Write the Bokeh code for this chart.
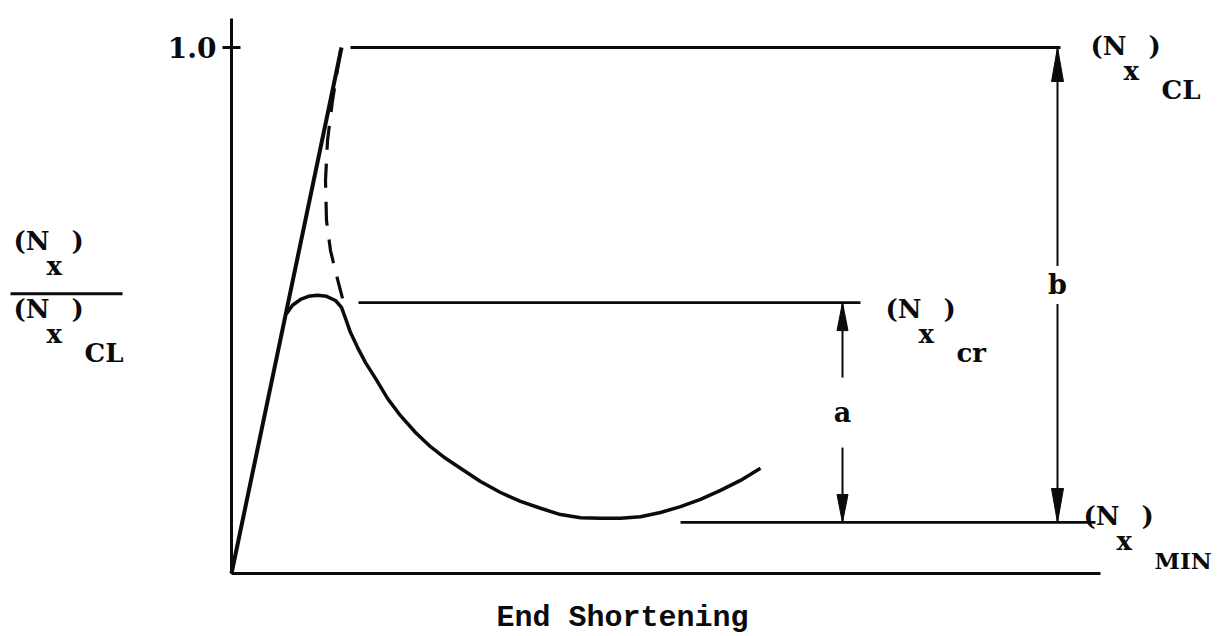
from bokeh.plotting import figure
from bokeh.models import Range1d, FixedTicker, PrintfTickFormatter
from bokeh.core.properties import value
from bokeh.embed import file_html
from bokeh.resources import INLINE

# Load levels, normalised by the classical buckling load (N_x)_CL
N_CL = 1.0
N_CR = 0.515
N_MIN = 0.097

y_ticks = [1.0]

# Elastic, pre-buckling branch
elastic_x = [0.0, 1.10]
elastic_y = [0.0, 1.0]

# Measured post-buckling path
post_x = [0.55, 0.61, 0.69, 0.77, 0.86, 0.95, 1.04, 1.10, 1.14, 1.19, 1.26,
          1.34, 1.44, 1.56, 1.69, 1.84, 1.99, 2.14, 2.29, 2.49, 2.69, 2.89,
          3.09, 3.29, 3.49, 3.69, 3.89, 4.09, 4.29, 4.49, 4.69, 4.89, 5.09, 5.29]
post_y = [0.494, 0.510, 0.521, 0.527, 0.529, 0.527, 0.519, 0.506, 0.485,
          0.458, 0.430, 0.401, 0.371, 0.333, 0.300, 0.268, 0.241, 0.219,
          0.200, 0.175, 0.154, 0.137, 0.124, 0.112, 0.106, 0.105, 0.105,
          0.108, 0.116, 0.127, 0.141, 0.158, 0.177, 0.200]

# Unstable theoretical path, dashed
theory_x = [1.09, 1.01, 0.96, 0.94, 0.95, 0.99, 1.05, 1.11]
theory_y = [0.994, 0.899, 0.823, 0.747, 0.671, 0.614, 0.567, 0.523]

# Extents of the reference lines and dimension arrows
axis_x_end = 8.69
axis_y_end = 1.055
cl_line_x = [1.19, 8.29]
cr_line_x = [1.27, 6.29]
min_line_x = [4.49, 8.64]
a_x = 6.11
b_x = 8.26

# Screen-to-data factors used for text placement and arrow heads
XPX = 0.01
YPX = 1.0 / 526.0

INK = "#0b0b0b"
SERIF = value("DejaVu Serif")

p = figure(width=1219, height=636,
           x_range=Range1d(-2.31, 9.88), y_range=Range1d(-0.1198, 1.0894),
           output_backend="svg", toolbar_location=None, min_border=0)
p.outline_line_color = None
p.grid.visible = False
p.background_fill_color = "white"

# Axes drawn through the origin
p.xaxis.fixed_location = 0
p.yaxis.fixed_location = 0
p.xaxis.bounds = (0, axis_x_end)
p.yaxis.bounds = (0, axis_y_end)
for ax in (p.xaxis, p.yaxis):
    ax.axis_line_color = INK
    ax.axis_line_width = 3
    ax.minor_tick_line_color = None
p.xaxis.ticker = FixedTicker(ticks=[])
p.xaxis.major_tick_line_color = None
p.xaxis.major_label_text_font_size = "0px"
p.yaxis.ticker = FixedTicker(ticks=y_ticks)
p.yaxis.formatter = PrintfTickFormatter(format="%.1f")
p.yaxis.major_tick_in = 9
p.yaxis.major_tick_out = 9
p.yaxis.major_tick_line_width = 3
p.yaxis.major_tick_line_color = INK
p.yaxis.major_label_standoff = 6
p.yaxis.major_label_text_font = "DejaVu Serif"
p.yaxis.major_label_text_font_style = "bold"
p.yaxis.major_label_text_font_size = "28px"
p.yaxis.major_label_text_color = INK

# Load paths
p.line(elastic_x, elastic_y, line_color=INK, line_width=4)
p.line(theory_x, theory_y, line_color=INK, line_width=3.2, line_dash="24 14")
p.line(post_x, post_y, line_color=INK, line_width=3.5, line_join="round")

# Horizontal reference levels
p.line(cl_line_x, [N_CL, N_CL], line_color=INK, line_width=2.8)
p.line(cr_line_x, [N_CR, N_CR], line_color=INK, line_width=2.8)
p.line(min_line_x, [N_MIN, N_MIN], line_color=INK, line_width=2.8)


def dimension(x, lo, hi, label, gap_px, head_len_px, head_w_px):
    mid = 0.5 * (lo + hi)
    half_gap = 0.5 * gap_px * YPX
    p.segment(x0=[x, x], y0=[lo, mid + half_gap], x1=[x, x], y1=[mid - half_gap, hi],
              line_color=INK, line_width=2)
    hl = head_len_px * YPX
    hw = 0.5 * head_w_px * XPX
    p.patches(xs=[[x - hw, x, x + hw], [x - hw, x, x + hw]],
              ys=[[hi - hl, hi, hi - hl], [lo + hl, lo, lo + hl]],
              fill_color=INK, line_color=INK, line_width=1)
    p.text(x=[x], y=[mid], text=[label], text_font=SERIF, text_font_style="bold",
           text_font_size="27px", text_align="center", text_baseline="middle",
           text_color=INK)


dimension(a_x, N_MIN, N_CR, "a", 70, 28, 11)
dimension(b_x, N_MIN, N_CL, "b", 38, 34, 12)


def n_label(x0, y0, sub=None, size="26px", sub_size="26px"):
    """(N_x) with an optional subscript; x0, y0 locate the opening parenthesis."""
    common = dict(text_font=SERIF, text_font_style="bold",
                  text_baseline="middle", text_align="left", text_color=INK)
    p.text(x=[x0], y=[y0], text=["(N"], text_font_size=size, **common)
    p.text(x=[x0 + 33 * XPX], y=[y0 - 25 * YPX], text=["x"], text_font_size=size, **common)
    p.text(x=[x0 + 58 * XPX], y=[y0], text=[")"], text_font_size=size, **common)
    if sub:
        p.text(x=[x0 + 71 * XPX], y=[y0 - 44 * YPX], text=[sub],
               text_font_size=sub_size, **common)


n_label(cl_line_x[1] + 30 * XPX, N_CL + 2 * YPX, "CL")
n_label(cr_line_x[1] + 25 * XPX, N_CR - 6 * YPX, "cr")
n_label(min_line_x[1] - 12 * XPX, N_MIN + 6 * YPX, "MIN", sub_size="23px")

# Ordinate label as a fraction
n_label(-2.18, 0.633)
n_label(-2.18, 0.502, "CL")
p.line([-2.21, -1.09], [0.532, 0.532], line_color=INK, line_width=3)

p.text(x=[3.91], y=[-0.0837], text=["End Shortening"], text_font=value("Liberation Mono"),
       text_font_style="bold", text_font_size="30px", text_align="center",
       text_baseline="middle", text_color=INK)

open("out.html", "w").write(file_html(p, INLINE))
